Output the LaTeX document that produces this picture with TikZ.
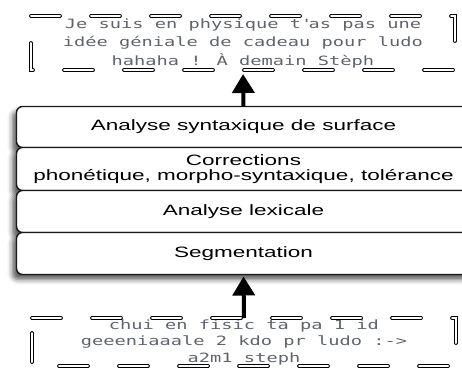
\documentclass[tikz,border=0pt]{standalone}
\usepackage{fontspec}
\newfontfamily\boxfont[FakeStretch=1.5]{Liberation Sans}
\newfontfamily\smsfont[FakeStretch=1.46]{DejaVu Sans Mono}
\usetikzlibrary{positioning,shadows.blur,arrows.meta}
\definecolor{smsgray}{RGB}{95,100,108}

\begin{document}
\begin{tikzpicture}[x=1pt, y=-1pt,
  lyr/.style={draw=black!90, line width=1.4pt, rounded corners=6pt, fill=white, minimum width=454pt, inner sep=0pt, outer sep=0pt, align=center, font=\boxfont\fontsize{15}{15.5}\selectfont, blur shadow={shadow xshift=-4pt, shadow yshift=-5pt, shadow blur radius=5pt, shadow opacity=65}},
  sms/.style={text=smsgray, align=center, minimum width=424pt, inner sep=0pt, outer sep=0pt},
  frm/.style={draw, line width=0.9pt, double, double distance=2pt, line cap=round, dash pattern=on 29pt off 31pt},
  arr/.style={line width=4pt, -{Triangle[width=22pt,length=19pt]}}]
\useasboundingbox (0,0) rectangle (462,369);
% the four layers
\node[lyr, minimum height=41pt] (syn) at (243.5,127) {Analyse syntaxique de surface};
\node[lyr, minimum height=43pt, below=0pt of syn] (cor) {Corrections\\phonétique, morpho-syntaxique, tolérance};
\node[lyr, minimum height=42pt, below=0pt of cor] (lex) {Analyse lexicale};
\node[lyr, minimum height=42pt, below=0pt of lex] (seg) {Segmentation};
% output and input messages
\node[sms, minimum height=54pt, font=\smsfont\fontsize{12.8}{18.5}\selectfont] (out) at (243,43) {Je suis en physique t\textquotesingle as pas une\\idée géniale de cadeau pour ludo\\hahaha ! À demain Stèph};
\node[sms, minimum height=48pt, font=\smsfont\fontsize{12.8}{16.5}\selectfont] (in) at (244,342) {chui en fisic ta pa 1 id\\geeeniaaale 2 kdo pr ludo :->\\a2m1 steph};
\draw[frm] (out.north west) -- (out.north east) -- (out.south east) -- (out.south west) -- cycle;
\draw[frm] (in.north west) -- (in.north east) -- (in.south east) -- (in.south west) -- cycle;
% arrows
\draw[arr, shorten >=4pt] (syn.north) -- (out.south);
\draw[arr, shorten >=2pt] (in.north) -- (seg.south);
\end{tikzpicture}
\end{document}
